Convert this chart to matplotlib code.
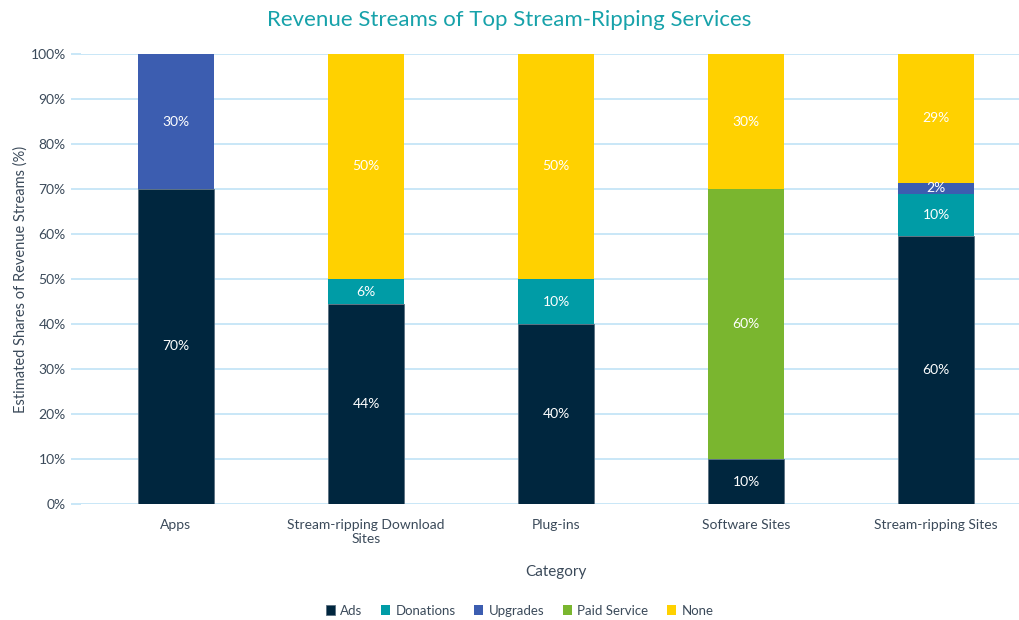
import matplotlib
matplotlib.use("Agg")
import matplotlib.pyplot as plt
import numpy as np

plt.rcParams['font.family'] = ['Lato', 'DejaVu Sans']

categories = ['Apps', 'Stream-ripping Download\nSites', 'Plug-ins', 'Software Sites', 'Stream-ripping Sites']
series = ['Ads', 'Donations', 'Upgrades', 'Paid Service', 'None']
ads = [70, 44.4, 40, 10, 59.5]
donations = [0, 5.6, 10, 0, 9.5]
upgrades = [30, 0, 0, 0, 2.4]
paid_service = [0, 0, 0, 60, 0]
none = [0, 50, 50, 30, 28.6]

colors = ['#00263E', '#009CA6', '#3C5DB0', '#7AB62F', '#FFD100']
text_col = '#3B4A5A'

fig = plt.figure(figsize=(10.19, 6.2), dpi=100)
ax = fig.add_axes([81 / 1019, 116 / 620, 950 / 1019, 450 / 620])

x = np.arange(len(categories))
bottom = np.zeros(len(categories))
for name, vals, col in zip(series, [ads, donations, upgrades, paid_service, none], colors):
    vals = np.array(vals, dtype=float)
    ax.bar(x, vals, 0.4, bottom=bottom, color=col, label=name,
           edgecolor='#5A6F80' if name == 'Ads' else col,
           linewidth=0.6 if name == 'Ads' else 0, zorder=3)
    for xi, v, b in zip(x, vals, bottom):
        if v > 0:
            ax.text(xi, b + v / 2, '%.0f%%' % v, ha='center', va='center',
                    color='white', fontsize=10, zorder=4)
    bottom += vals

ax.set_xlim(-0.5, 4.5)
ax.set_ylim(0, 100)
ax.set_yticks(np.arange(0, 101, 10))
ax.set_yticklabels(['%d%%' % t for t in range(0, 101, 10)])
ax.set_xticks(x)
ax.set_xticklabels(categories)
ax.grid(axis='y', color='#C5E5F7', linewidth=1.3, zorder=0)
ax.tick_params(axis='y', length=7, color='#C5E5F7', width=1.3, labelsize=10, labelcolor=text_col, pad=4)
ax.tick_params(axis='x', length=0, labelsize=10, labelcolor=text_col, pad=11)
for s in ax.spines.values():
    s.set_visible(False)

ax.set_xlabel('Category', fontsize=11, color=text_col, labelpad=14)
ax.set_ylabel('Estimated Shares of Revenue Streams (%)', fontsize=10.5, color=text_col, labelpad=2)
fig.text(0.5, 0.968, 'Revenue Streams of Top Stream-Ripping Services', ha='center', va='center',
         fontsize=16, color='#17A2AA')

fig.legend(loc='center', bbox_to_anchor=(0.51, 0.015), ncol=5, frameon=False, fontsize=9.5,
           handlelength=0.7, handleheight=0.7, handletextpad=0.4, columnspacing=1.4,
           labelcolor=text_col)

fig.savefig('out.png', dpi=100)
